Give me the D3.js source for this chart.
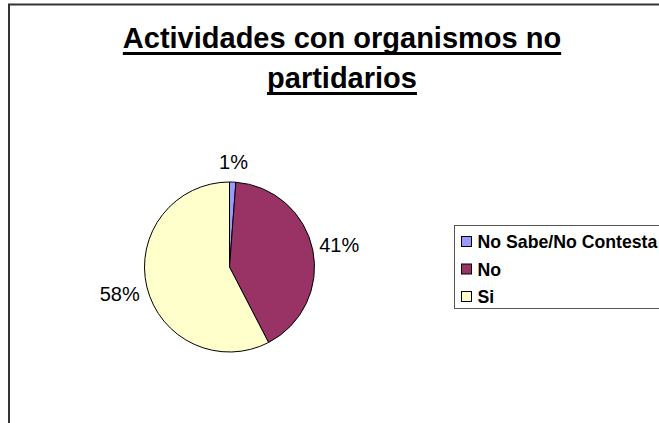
<!DOCTYPE html>
<meta charset="utf-8">
<html>
<head>
<script src="https://d3js.org/d3.v7.min.js"></script>
<style>
  body { margin: 0; background: #fff; }
  text { font-family: "Liberation Sans", Arial, sans-serif; }
</style>
</head>
<body>
<svg id="chart" width="659" height="423"></svg>
</body>
</html>
<script>

// data
var categories = ["No Sabe/No Contesta", "No", "Si"];
var values = [1.2, 41.2, 57.6];
var labels = ["1%", "41%", "58%"];
var colors = ["#9999FF", "#993366", "#FFFFCC"];
var titleLines = ["Actividades con organismos no", "partidarios"];

var svg = d3.select("#chart");

// chart area border (runs off right and bottom)
svg.append("path")
  .attr("d", "M9,430 L9,4.5 L670,4.5")
  .attr("fill", "none")
  .attr("stroke", "#333")
  .attr("stroke-width", 2);

// title, underlined by hand so the rule is as thick as the original
titleLines.forEach(function (t, i) {
  var y = 48 + i * 40;
  var txt = svg.append("text")
    .attr("x", 342)
    .attr("y", y)
    .attr("text-anchor", "middle")
    .attr("font-size", "29px")
    .attr("font-weight", "bold")
    .text(t);
  var w = txt.node().getComputedTextLength();
  svg.append("rect")
    .attr("x", 342 - w / 2)
    .attr("y", y + 4)
    .attr("width", w)
    .attr("height", 3)
    .attr("fill", "#000");
});

// pie
var cx = 229.5, cy = 267, r = 85;
var pie = d3.pie().sort(null).value(function (d) { return d; });
var arc = d3.arc().innerRadius(0).outerRadius(r);
var arcs = pie(values);

var g = svg.append("g").attr("transform", "translate(" + cx + "," + cy + ")");
g.selectAll("path")
  .data(arcs)
  .enter()
  .append("path")
    .attr("d", arc)
    .attr("fill", function (d, i) { return colors[i]; })
    .attr("stroke", "#000")
    .attr("stroke-width", 1);

// percentage labels
var labelRadius = [105, 112, 113];
g.selectAll("text.pct")
  .data(arcs)
  .enter()
  .append("text")
    .attr("class", "pct")
    .attr("x", function (d, i) {
      return d3.arc().innerRadius(labelRadius[i]).outerRadius(labelRadius[i]).centroid(d)[0];
    })
    .attr("y", function (d, i) {
      return d3.arc().innerRadius(labelRadius[i]).outerRadius(labelRadius[i]).centroid(d)[1] + 7;
    })
    .attr("text-anchor", "middle")
    .attr("font-size", "20px")
    .text(function (d, i) { return labels[i]; });

// legend
var legend = svg.append("g").attr("transform", "translate(454,225)");
legend.append("rect")
  .attr("x", 0.5).attr("y", 0.5)
  .attr("width", 240).attr("height", 83)
  .attr("fill", "#fff")
  .attr("stroke", "#555")
  .attr("stroke-width", 1);

var rowY = d3.scalePoint().domain(categories).range([17, 72]);
categories.forEach(function (c, i) {
  legend.append("rect")
    .attr("x", 7.5).attr("y", rowY(c) - 5.5)
    .attr("width", 10).attr("height", 10)
    .attr("fill", colors[i])
    .attr("stroke", "#000")
    .attr("stroke-width", 1);
  legend.append("text")
    .attr("x", 23.5)
    .attr("y", rowY(c) + 6)
    .attr("font-size", "17.7px")
    .attr("font-weight", "bold")
    .text(c);
});

</script>
